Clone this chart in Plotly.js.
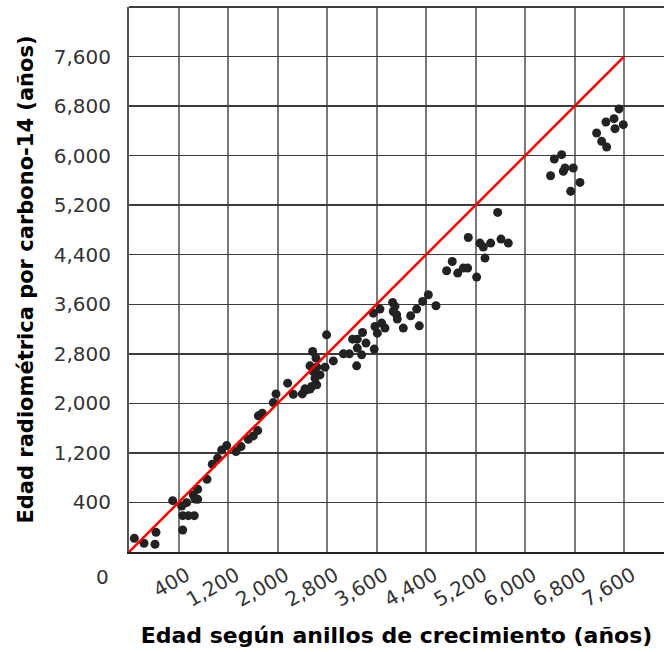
<!DOCTYPE html>
<html>
<head>
<meta charset="utf-8">
<script src="https://cdn.plot.ly/plotly-3.0.1.min.js"></script>
<style>html,body{margin:0;padding:0;background:#fff;}#chart{width:664px;height:652px;}</style>
</head>
<body>
<div id="chart"></div>
<script>
// Tree-ring age (x) vs radiocarbon age (y), in years
var treeRingAge = [-314,-158,20,36,306,468,468,559,655,451,532,667,710,640,710,
  860,946,1033,1098,1179,1329,1410,1528,1609,1680,1690,1754,1932,1976,2164,2255,2401,2444,2472,2525,2553,2634,2606,2687,2579,2525,2634,2768,2622,2568,2793,2902,3064,3161,3279,3360,3289,3430,3214,3289,3374,3563,3575,3613,3683,3737,3548,3656,3860,3898,3871,3925,3936,4033,4152,4249,4292,4346,4437,4561,
  4733,4824,4912,5002,5073,5218,5353,5083,5272,5326,5445,5612,5730,5558,
  6413,6473,6592,6619,6646,6780,6738,6888,
  7157,7238,7319,7308,7438,7454,7588,7519];
var carbonAge = [-179,-259,-275,-82,429,-44,187,187,187,343,397,456,613,521,452,
  775,1017,1114,1248,1318,1221,1302,1421,1475,1560,1798,1841,2013,2153,2326,2148,2153,2234,2218,2230,2272,2299,2406,2460,2514,2606,2585,2585,2730,2837,3106,2686,2800,2800,2606,2783,2892,2973,3037,3037,3144,2876,3241,3133,3296,3215,3457,3522,3630,3565,3484,3430,3361,3215,3414,3522,3252,3646,3754,3576,
  4141,4291,4103,4184,4184,4039,4346,4679,4588,4524,4588,4653,4588,5083,
  5676,5946,6016,5746,5800,5800,5423,5568,
  6366,6231,6140,6544,6597,6436,6500,6754];
// identity reference line y = x
var refLineX = [-400, 7600];
var refLineY = [-400, 7600];
var tickValues = [400,1200,2000,2800,3600,4400,5200,6000,6800,7600];
var tickLabels = ["400","1,200","2,000","2,800","3,600","4,400","5,200","6,000","6,800","7,600"];

var fam = "DejaVu Sans, Verdana, sans-serif";
var tickFont = {family: fam, size: 20, color: "#333"};
var xTitleFont = {family: fam, size: 22, color: "#000", weight: "bold"};
var yTitleFont = {family: fam, size: 21, color: "#000", weight: "bold"};

var traces = [
  {x: treeRingAge, y: carbonAge, type: "scatter", mode: "markers",
   marker: {color: "#222", size: 9}, hoverinfo: "x+y", showlegend: false},
  {x: refLineX, y: refLineY, type: "scatter", mode: "lines",
   line: {color: "#ff0000", width: 2.5}, showlegend: false}
];

var layout = {
  width: 664, height: 652,
  margin: {l: 129, r: 0, t: 7, b: 100},
  paper_bgcolor: "#fff", plot_bgcolor: "#fff",
  xaxis: {
    range: [-400, 8246], tickvals: tickValues, ticktext: tickLabels,
    tickangle: -30, tickfont: tickFont, ticklabelstandoff: 2, ticklabelshift: 8,
    showgrid: true, gridcolor: "#7a7a7a", gridwidth: 2,
    showline: true, linecolor: "#222", linewidth: 2, zeroline: false,
    title: {text: "Edad según anillos de crecimiento (años)", font: xTitleFont, standoff: 17}
  },
  yaxis: {
    range: [-400, 8400], tickvals: tickValues, ticktext: tickLabels,
    tickfont: tickFont, ticklabelstandoff: 12,
    showgrid: true, gridcolor: "#3c3c3c", gridwidth: 1.5,
    showline: true, linecolor: "#555", linewidth: 2, zeroline: false,
    title: {text: "Edad radiométrica por carbono-14 (años)", font: yTitleFont, standoff: 14}
  },
  shapes: [
    {type: "line", xref: "paper", yref: "paper", x0: 0, x1: 1, y0: 1, y1: 1,
     line: {color: "#3c3c3c", width: 2}}
  ],
  annotations: [
    {text: "0", xref: "paper", yref: "paper", x: -0.049, y: -0.046,
     xanchor: "center", yanchor: "middle", showarrow: false, font: tickFont}
  ]
};

Plotly.newPlot("chart", traces, layout, {displayModeBar: false, staticPlot: true});
</script>
</body>
</html>
